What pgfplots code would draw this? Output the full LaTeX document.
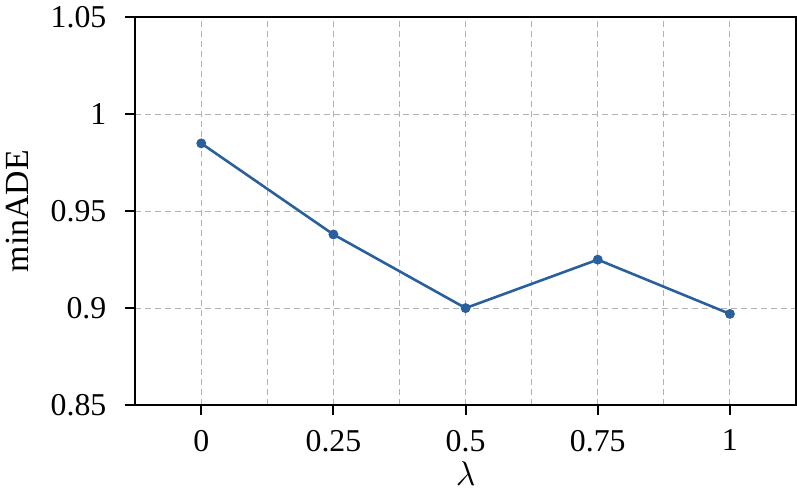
\documentclass[border=0pt]{standalone}
\usepackage{fontspec}
\setmainfont{Liberation Serif}
\usepackage{pgfplots}
\pgfplotsset{compat=1.18}
\definecolor{lineblue}{HTML}{2A5F9E}

\begin{document}
\begin{tikzpicture}
  \begin{axis}[
    scale only axis,
    width=332.5pt, height=195pt,
    xmin=-0.125, xmax=1.125,
    ymin=0.85, ymax=1.05,
    xtick={0,0.25,0.5,0.75,1},
    xticklabels={0,0.25,0.5,0.75,1},
    minor xtick={0.125,0.375,0.625,0.875},
    ytick={0.85,0.9,0.95,1,1.05},
    yticklabels={0.85,0.9,0.95,1,1.05},
    tick pos=left,
    tick align=outside,
    major tick length=5pt,
    minor tick length=0pt,
    xmajorgrids, ymajorgrids, xminorgrids,
    grid style={gray!60, dash pattern=on 3pt off 2pt, line width=0.5pt},
    minor grid style={gray!60, dash pattern=on 3pt off 2pt, line width=0.5pt},
    axis line style={line width=1pt},
    major tick style={line width=1pt, black},
    ticklabel style={font=\fontsize{16}{18}\selectfont},
    yticklabel style={xshift=-6pt},
    xticklabel style={yshift=-4pt},
    label style={font=\fontsize{17}{19}\selectfont},
    ylabel style={yshift=4pt},
    xlabel style={yshift=2pt},
    xlabel={$\lambda$\rule[-3pt]{0pt}{3pt}},
    ylabel={minADE},
    /pgf/number format/assume math mode=true,
  ]
    \addplot[lineblue, line width=1.3pt, mark=*, mark size=1.8pt] coordinates {
      (0,0.985) (0.25,0.938) (0.5,0.900) (0.75,0.925) (1,0.897)
    };
  \end{axis}
\end{tikzpicture}
\end{document}
